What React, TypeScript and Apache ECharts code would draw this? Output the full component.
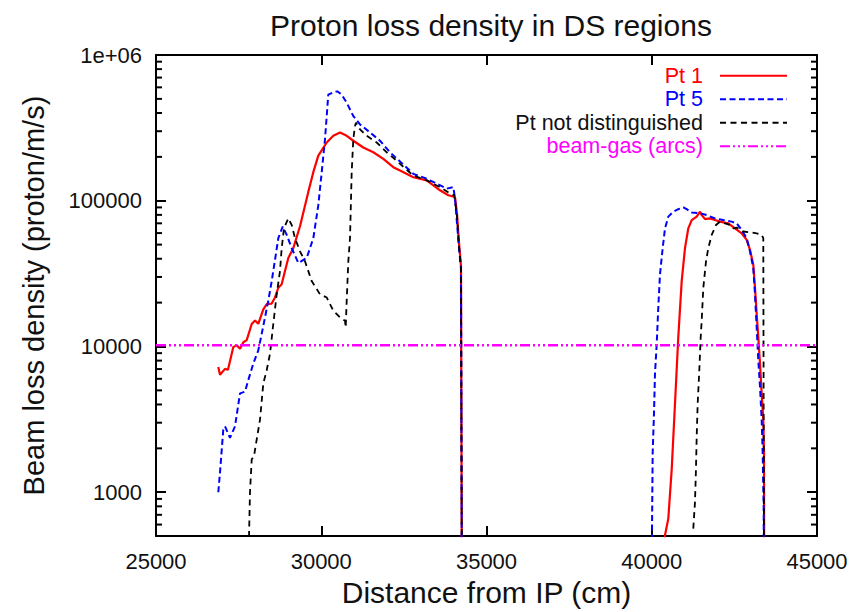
import React, { useEffect, useRef } from 'react';
import * as echarts from 'echarts';

const FONT = '"Liberation Sans", Arial, Helvetica, sans-serif';
const TITLE = 'Proton loss density in DS regions';
const X_NAME = 'Distance from IP (cm)';
const Y_NAME = 'Beam loss density (proton/m/s)';
const SERIES_NAMES = ['Pt 1', 'Pt 5', 'Pt not distinguished', 'beam-gas (arcs)'];
const SERIES_COLORS = ['#ff0000', '#0000ff', '#000000', '#ff00ff'];
const X_MIN = 25000;
const X_MAX = 45000;
const X_STEP = 5000;
const Y_MIN = 500;
const Y_MAX = 1000000;
const MINOR_TICKS = [
  600, 700, 800, 900,
  2000, 3000, 4000, 5000, 6000, 7000, 8000, 9000,
  20000, 30000, 40000, 50000, 60000, 70000, 80000, 90000,
  200000, 300000, 400000, 500000, 600000, 700000, 800000, 900000,
];

const PT1: any[] = [
  [26885, 7240], [26936, 6400], [27088, 7020], [27178, 6920], [27339, 9900], [27442, 10200],
  [27542, 9640], [27642, 10700], [27744, 11050], [27896, 14260], [27996, 15100], [28095, 14300],
  [28247, 18000], [28350, 19500], [28501, 19700], [28601, 21700], [28701, 25300], [28803, 26700],
  [28903, 33000], [29003, 40500], [29154, 47300], [29357, 66800], [29608, 115000], [29760, 157000],
  [29911, 204000], [30165, 251000], [30365, 279000], [30567, 294000], [30770, 279000], [30970, 258000],
  [31272, 232000], [31575, 215000], [31878, 194000], [32180, 170000], [32383, 161000], [32785, 145000],
  [33191, 138000], [33593, 118000], [33844, 109000], [34047, 106000], [34107, 82000], [34168, 51200],
  [34228, 35700], [34259, 100],
  '-',
  [40130, 200], [40401, 507], [40501, 659], [40604, 1440], [40704, 4080], [40803, 11600],
  [40906, 28100], [41006, 47300], [41106, 64700], [41209, 73700], [41360, 77800], [41460, 84100],
  [41511, 79700], [41611, 74900], [41762, 75700], [41913, 73700], [42065, 71900], [42316, 70000],
  [42519, 64700], [42721, 59800], [42872, 53900], [42972, 46100], [43072, 36500], [43124, 25300],
  [43175, 16700], [43224, 11600], [43275, 7630], [43326, 4770], [43375, 3150], [43396, 1870],
  [43405, 100],
];

const PT5: any[] = [
  [26885, 1000], [26936, 1365], [27036, 2690], [27088, 2830], [27239, 2360], [27390, 2830],
  [27542, 4770], [27693, 4900], [27793, 5890], [27944, 7630], [28095, 9410], [28198, 12200],
  [28298, 15850], [28398, 20600], [28501, 28100], [28601, 39300], [28701, 55400], [28834, 66500],
  [28955, 58300], [29106, 47300], [29306, 37400], [29560, 40500], [29760, 55400], [29911, 93200],
  [30014, 157000], [30114, 265000], [30213, 535000], [30365, 554000], [30486, 563000], [30619, 535000],
  [30770, 470000], [30970, 381000], [31172, 334000], [31475, 294000], [31778, 258000], [32080, 215000],
  [32383, 186000], [32785, 153000], [33191, 141500], [33493, 131000], [33796, 121000], [33996, 124000],
  [34047, 103500], [34107, 70000], [34168, 47300], [34228, 34600], [34259, 100],
  '-',
  [39998, 300], [40028, 1870], [40068, 3490], [40098, 6520], [40150, 10400], [40198, 18500],
  [40249, 31200], [40331, 47300], [40401, 64700], [40501, 77800], [40652, 84100], [40803, 87500],
  [40955, 89900], [41057, 87500], [41209, 83200], [41460, 81900], [41663, 79700], [41913, 75700],
  [42165, 73700], [42416, 71900], [42568, 70000], [42721, 63000], [42872, 55400], [42972, 45000],
  [43072, 34600], [43124, 22800], [43175, 13500], [43224, 8050], [43275, 5300], [43326, 3150],
  [43356, 1870], [43375, 1110], [43387, 810], [43395, 100],
];

const PT_ND: any[] = [
  [27793, 300], [27844, 1000], [27896, 1680], [27965, 1770], [28047, 2300], [28147, 3150],
  [28247, 5590], [28350, 6880], [28449, 8920], [28549, 14260], [28652, 22800], [28752, 32900],
  [28803, 47300], [28873, 64700], [29003, 75700], [29106, 68200], [29206, 55400], [29357, 45000],
  [29508, 38400], [29711, 28100], [29962, 22800], [30165, 21700], [30365, 17600], [30567, 15850],
  [30719, 15000], [30740, 13500], [30770, 20600], [30819, 38400], [30870, 55400], [30921, 157000],
  [30970, 265000], [31021, 326000], [31051, 343000], [31172, 309000], [31375, 279000], [31678, 251000],
  [31980, 215000], [32283, 188000], [32383, 179000], [32785, 149000], [33191, 138000], [33593, 124000],
  [33896, 112000], [34026, 109000], [34107, 78100], [34168, 48900], [34228, 34600], [34259, 100],
  '-',
  [41257, 563], [41308, 854], [41338, 1440], [41360, 2420], [41390, 4080], [41439, 6880],
  [41481, 11600], [41511, 15000], [41560, 25300], [41642, 38400], [41711, 47300], [41814, 58300],
  [41944, 68200], [42065, 71900], [42216, 70000], [42368, 68200], [42468, 64700], [42571, 65500],
  [42771, 61500], [42972, 60800], [43175, 59800], [43326, 58300], [43375, 55400], [43400, 100],
];

const BEAM_GAS: any[] = [[25000, 10200], [45000, 10200]];

const SERIES_DATA = [PT1, PT5, PT_ND, BEAM_GAS];
const SERIES_WIDTHS = [2.2, 2, 1.8, 2.6];
const SERIES_DASH: any[] = ['solid', [6, 3.5], [6, 4.5], [10, 3, 2, 3, 2, 3, 2, 3]];

function yLabel(v: number): string {
  const l = Math.log10(v);
  if (Math.abs(l - Math.round(l)) > 1e-6) return '';
  const r = Math.round(v);
  if (r >= 1000000) return '1e+06';
  return String(r);
}

export default function App() {
  const ref = useRef<HTMLDivElement>(null);
  useEffect(() => {
    if (!ref.current) return;
    const chart = echarts.init(ref.current, null, { renderer: 'svg' });
    const axisLine = { show: true, onZero: false, lineStyle: { color: '#000', width: 2 } };
    const axisTick = { show: true, inside: true, length: 10, lineStyle: { color: '#000', width: 2 } };
    const labelStyle = { fontFamily: FONT, fontSize: 22, color: '#111' };
    const option: any = {
      animation: false,
      backgroundColor: '#fff',
      title: {
        text: TITLE,
        left: 265,
        top: 5,
        textStyle: { fontFamily: FONT, fontSize: 30, fontWeight: 'normal', color: '#111' },
      },
      grid: { left: 156, right: 35, top: 55, bottom: 71, containLabel: false },
      legend: {
        orient: 'vertical',
        right: 64,
        top: 64,
        align: 'right',
        padding: 0,
        itemGap: 0,
        itemWidth: 67,
        itemHeight: 2,
        itemStyle: { opacity: 0 },
        selectedMode: false,
        textStyle: { fontFamily: FONT, fontSize: 21.5, lineHeight: 23.5, padding: [0, 12, 0, 0] },
        data: SERIES_NAMES.map((n, i) => ({ name: n, textStyle: { color: SERIES_COLORS[i] === '#000000' ? '#111' : SERIES_COLORS[i] } })),
      },
      xAxis: [
        {
          type: 'value', min: X_MIN, max: X_MAX, interval: X_STEP, position: 'bottom',
          name: X_NAME, nameLocation: 'middle', nameGap: 39,
          nameTextStyle: { fontFamily: FONT, fontSize: 30, color: '#111' },
          axisLine, axisTick,
          axisLabel: { ...labelStyle, margin: 14, formatter: (v: number) => String(v) },
          splitLine: { show: false },
        },
        {
          type: 'value', min: X_MIN, max: X_MAX, interval: X_STEP, position: 'top',
          axisLine, axisTick, axisLabel: { show: false }, splitLine: { show: false },
        },
      ],
      yAxis: [
        {
          type: 'log', logBase: 10, min: Y_MIN, max: Y_MAX, position: 'left',
          name: Y_NAME, nameLocation: 'middle', nameGap: 108,
          nameTextStyle: { fontFamily: FONT, fontSize: 29, color: '#111' },
          axisLine, axisTick,
          axisLabel: { ...labelStyle, margin: 14, formatter: yLabel },
          splitLine: { show: false },
        },
        {
          type: 'log', logBase: 10, min: Y_MIN, max: Y_MAX, position: 'right',
          axisLine, axisTick, axisLabel: { show: false }, splitLine: { show: false },
        },
      ],
      series: [
        ...SERIES_NAMES.map((n, i) => ({
          name: n,
          type: 'line',
          data: SERIES_DATA[i],
          symbol: 'none',
          showSymbol: false,
          connectNulls: false,
          clip: true,
          lineStyle: { color: SERIES_COLORS[i], width: SERIES_WIDTHS[i], type: SERIES_DASH[i] },
          itemStyle: { color: SERIES_COLORS[i] },
          z: 2 + i,
        })),
        {
          name: 'minor-ticks',
          type: 'custom',
          silent: true,
          data: MINOR_TICKS.map((v) => [X_MIN, v]),
          renderItem: (params: any, api: any) => {
            const pt = api.coord([X_MIN, api.value(1)]);
            const cs = params.coordSys;
            const y = pt[1];
            return {
              type: 'group',
              children: [
                { type: 'line', shape: { x1: cs.x, y1: y, x2: cs.x + 6, y2: y }, style: { stroke: '#000', lineWidth: 2 } },
                { type: 'line', shape: { x1: cs.x + cs.width - 6, y1: y, x2: cs.x + cs.width, y2: y }, style: { stroke: '#000', lineWidth: 2 } },
              ],
            };
          },
          z: 10,
        },
      ],
    };
    chart.setOption(option);
    return () => chart.dispose();
  }, []);
  return <div ref={ref} style={{ width: 852, height: 612, position: 'absolute', left: 0, top: 0 }} />;
}
